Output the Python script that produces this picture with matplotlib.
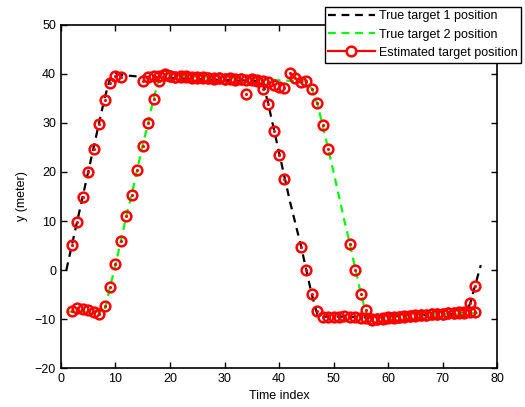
import matplotlib
matplotlib.use('Agg')
import matplotlib.pyplot as plt
import numpy as np
from matplotlib.lines import Line2D

plt.rcParams['font.family'] = ['Liberation Sans', 'DejaVu Sans']

nan = np.nan
t = np.arange(1, 78)

# true trajectories
true1 = ([0, 5, 10, 15, 20, 25, 30, 35, 39, 40]
         + [39.8, 39.7, 39.6, 39.5, 39.5, 39.4, 39.4, 39.3, 39.3, 39.2, 39.2, 39.1, 39.1, 39.0,
            39.0, 38.9, 38.9, 38.9, 38.8, 38.8, 38.8, 38.7, 38.7, 38.7, 38.6, 38.6, 38.5]
         + [34, 29, 24, 19, 14, 9.5, 5, 0, -5, -9]
         + [-9.5, -9.5, -9.5, -9.5, -9.5, -9.6, -9.6, -9.6, -9.7, -9.7, -9.6, -9.6, -9.5, -9.5,
            -9.4, -9.4, -9.3, -9.3, -9.2, -9.2, -9.1, -9.1, -9.0, -9.0, -8.9, -8.9, -8.8]
         + [-7, -3, 1])

true2 = ([-8.5] * 8
         + [-3.5, 1, 6, 11, 15.5, 20.5, 25.5, 30, 35, 39, 40]
         + [39.8, 39.7, 39.6, 39.5, 39.5, 39.4, 39.4, 39.3, 39.3, 39.2, 39.2, 39.1, 39.1, 39.0,
            39.0, 38.9, 38.9, 38.8, 38.8, 38.8, 38.7, 38.7, 38.6, 38.6, 38.5]
         + [38.5, 37, 34, 29.5, 24.8, 20, 15, 10, 5.3, 0.2, -4.8, -9]
         + [-9.6, -9.7, -9.8, -9.8, -9.7, -9.6, -9.5, -9.5, -9.4, -9.3, -9.3, -9.2, -9.1, -9.1,
            -9.0, -9.0, -8.9, -8.9, -8.8, -8.8, -8.8])

# estimates (nan = no estimate at that step)
est1 = ([nan, 5.2, 9.7, 14.8, 19.9, 24.7, 29.7, 34.6, 38.2, 39.6, 39.3, nan, nan, nan]
        + [38.6, 39.3, 39.5, 39.6, 39.8, 39.5, 39.4, 39.3, 39.5, 39.2, 39.3, 39.1, 39.2, 39.0,
           39.1, 38.9, 39.0, 38.8, 38.9, 35.9, 38.7, 38.5, 36.9]
        + [33.9, 28.4, 23.5, 18.6, nan, nan, 4.7, 0.1, -4.8, -8.4]
        + [-9.6, -9.5, -9.6, -9.5, -9.4, -9.6, -9.5, -9.7, -9.8, -10.0, -9.9, -9.7, -9.6, -9.5,
           -9.5, -9.3, -9.3, -9.2, -9.1, -9.1, -9.0, -8.9, -8.9, -8.8, -8.8, -8.7, -8.7]
        + [-6.8, -3.2, nan])

est2 = ([nan, -8.4, -7.7, -7.9, -8.1, -8.5, -8.9, -7.3]
        + [-3.4, 1.2, 5.9, 11.0, 15.4, 20.4, 25.4, 30.1, 34.8, 38.5, 40.1]
        + [39.6, 39.4, 39.5, 39.3, 39.4, 39.2, 39.3, 39.2, 39.1, 39.2, 39.0, 39.1, 38.9, 39.0,
           38.8, 38.9, 38.7, 38.6, 38.3, 37.8, 37.4, 37.1]
        + [40.3, 39.1, 38.3, 38.6, 36.9, 34.1, 29.5, 24.7, nan, nan, nan, 5.4, 0.1, -4.8, -8.2]
        + [-10.2, -10.1, -10.0, -9.8, -9.7, -9.6, -9.5, -9.4, -9.3, -9.2, -9.2, -9.0, -9.0,
           -8.9, -8.8, -8.7, -8.6, -8.5, -8.5, -8.6, nan])

fig = plt.figure(figsize=(5.25, 4.07), dpi=100)
ax = fig.add_axes([0.116, 0.0958, 0.831, 0.8428])

dash = (3.5, 2.6)
ax.plot(t, true1, '--', color='k', lw=1.6, dashes=dash, zorder=2)
ax.plot(t, true2, '--', color='#00ff00', lw=1.6, dashes=dash, zorder=2)

for est in (est1, est2):
    ax.plot(t, est, 'o', color='r', mfc='none', mew=1.8, ms=7, zorder=3)
    ax.plot(t, est, '.', color='r', ms=2.5, zorder=3)

ax.set_xlim(0, 80)
ax.set_ylim(-20, 50)
ax.set_xticks(np.arange(0, 81, 10))
ax.set_yticks(np.arange(-20, 51, 10))
ax.tick_params(direction='in', top=True, right=True, length=4, width=1, labelsize=9)
for s in ax.spines.values():
    s.set_linewidth(1.2)
ax.set_xlabel('Time index', fontsize=9, labelpad=4)
ax.set_ylabel('y (meter)', fontsize=9, labelpad=5)

handles = [Line2D([], [], color='k', ls='--', lw=1.6, dashes=dash),
           Line2D([], [], color='#00ff00', ls='--', lw=1.6, dashes=dash),
           Line2D([], [], color='r', lw=1.6, marker='o', mfc='w', mew=1.8, ms=7)]
labels = ['True target 1 position', 'True target 2 position', 'Estimated target position']
leg = fig.legend(handles, labels, loc='upper right', bbox_to_anchor=(0.998, 0.99),
                 fontsize=9, fancybox=False, edgecolor='k', framealpha=1,
                 handlelength=3.7, handletextpad=0.35, borderpad=0.3, labelspacing=0.5,
                 borderaxespad=0.2)
leg.get_frame().set_linewidth(1.0)

fig.savefig('out.png', dpi=100)
